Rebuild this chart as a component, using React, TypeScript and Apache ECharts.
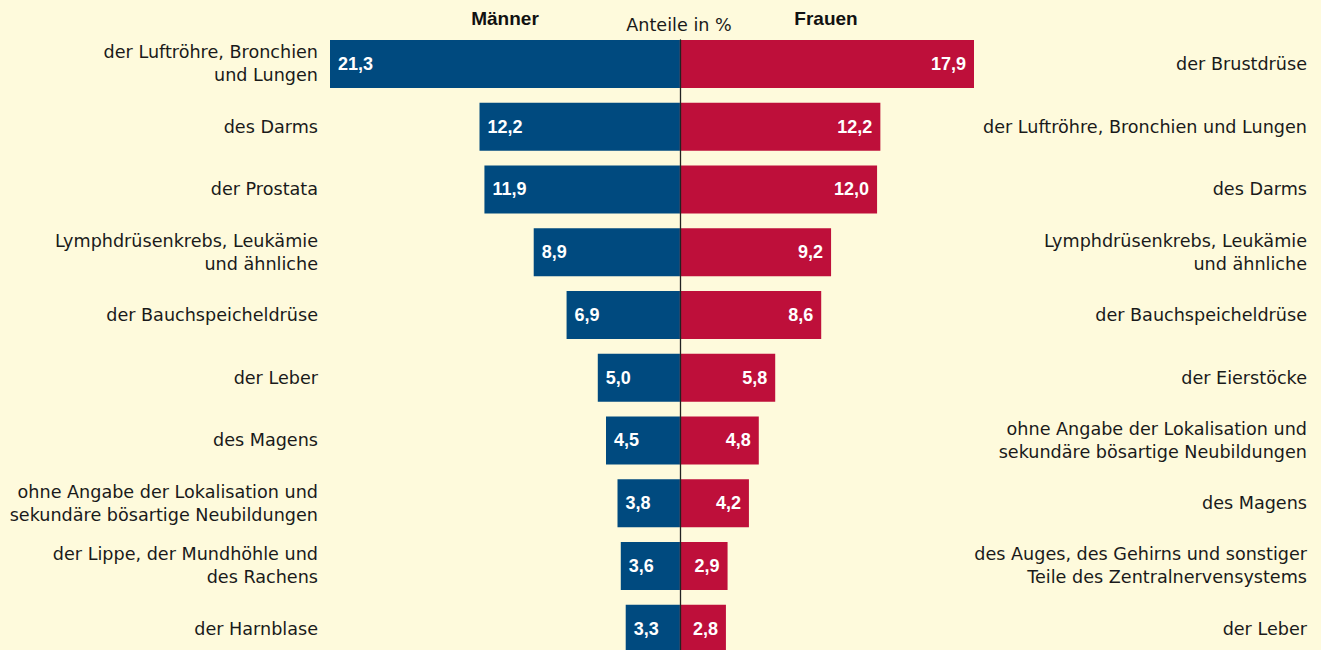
import React, { useEffect, useRef } from "react";
import * as echarts from "echarts";

const menLabels = [
  "der Luftröhre, Bronchien\nund Lungen",
  "des Darms",
  "der Prostata",
  "Lymphdrüsenkrebs, Leukämie\nund ähnliche",
  "der Bauchspeicheldrüse",
  "der Leber",
  "des Magens",
  "ohne Angabe der Lokalisation und\nsekundäre bösartige Neubildungen",
  "der Lippe, der Mundhöhle und\ndes Rachens",
  "der Harnblase",
];
const menValues = [21.3, 12.2, 11.9, 8.9, 6.9, 5.0, 4.5, 3.8, 3.6, 3.3];

const womenLabels = [
  "der Brustdrüse",
  "der Luftröhre, Bronchien und Lungen",
  "des Darms",
  "Lymphdrüsenkrebs, Leukämie\nund ähnliche",
  "der Bauchspeicheldrüse",
  "der Eierstöcke",
  "ohne Angabe der Lokalisation und\nsekundäre bösartige Neubildungen",
  "des Magens",
  "des Auges, des Gehirns und sonstiger\nTeile des Zentralnervensystems",
  "der Leber",
];
const womenValues = [17.9, 12.2, 12.0, 9.2, 8.6, 5.8, 4.8, 4.2, 2.9, 2.8];

const headMen = "Männer";
const headWomen = "Frauen";
const headUnit = "Anteile in %";

const FONT = "'Liberation Sans', Arial, sans-serif";
const LFONT = "'DejaVu Sans', 'Liberation Sans', sans-serif";
const BG = "#FEFADC";
const BLUE = "#004A7F";
const RED = "#BE0F3A";
const TEXT = "#1a1a1a";

const fmt = (v: number) => Math.abs(v).toFixed(1).replace(".", ",");

export default function App() {
  const ref = useRef<HTMLDivElement>(null);
  useEffect(() => {
    document.body.style.margin = "0";
    document.body.style.overflow = "hidden";
    const chart = echarts.init(ref.current!, null, { renderer: "svg" });
    const xMin = -Math.max(...menValues);
    const xMax = Math.max(...womenValues);
    const gridLeft = 330;
    const gridRight = 347;
    chart.setOption({
      animation: false,
      backgroundColor: BG,
      textStyle: { fontFamily: FONT },
      grid: [
        { left: gridLeft, right: gridRight, top: 32.6, height: 627.5 },
        { left: gridLeft, right: gridRight, top: 40, height: 620 },
      ],
      xAxis: [
        {
          type: "value",
          gridIndex: 0,
          min: xMin,
          max: xMax,
          show: false,
        },
        {
          type: "value",
          gridIndex: 1,
          min: xMin,
          max: xMax,
          axisLine: { show: false },
          axisTick: { show: false },
          axisLabel: { show: false },
          splitLine: { show: false },
        },
      ],
      yAxis: [
        {
          type: "category",
          gridIndex: 0,
          position: "left",
          inverse: true,
          data: menLabels,
          axisLine: { show: false },
          axisTick: { show: false },
          axisLabel: {
            margin: 12,
            align: "right",
            color: TEXT,
            fontSize: 17.6,
            lineHeight: 23,
            fontFamily: LFONT,
          },
        },
        {
          type: "category",
          gridIndex: 0,
          position: "right",
          inverse: true,
          data: womenLabels,
          axisLine: { show: false },
          axisTick: { show: false },
          axisLabel: {
            margin: 1307 - (1321 - gridRight),
            align: "right",
            color: TEXT,
            fontSize: 17.6,
            lineHeight: 23,
            fontFamily: LFONT,
          },
        },
        {
          type: "value",
          gridIndex: 1,
          min: 0,
          max: 1,
          z: 10,
          axisLine: { show: true, onZero: true, lineStyle: { color: "#222", width: 1.3 } },
          axisTick: { show: false },
          axisLabel: { show: false },
          splitLine: { show: false },
        },
      ],
      graphic: [
        {
          type: "text",
          x: 505,
          y: 18,
          style: {
            text: headMen,
            fontSize: 19,
            fontWeight: "bold",
            fontFamily: FONT,
            fill: "#111",
            textAlign: "center",
            textVerticalAlign: "middle",
          },
        },
        {
          type: "text",
          x: 826,
          y: 18,
          style: {
            text: headWomen,
            fontSize: 19,
            fontWeight: "bold",
            fontFamily: FONT,
            fill: "#111",
            textAlign: "center",
            textVerticalAlign: "middle",
          },
        },
        {
          type: "text",
          x: 679,
          y: 25,
          style: {
            text: headUnit,
            fontSize: 17.6,
            fontFamily: LFONT,
            fill: TEXT,
            textAlign: "center",
            textVerticalAlign: "middle",
          },
        },
      ],
      series: [
        {
          type: "bar",
          name: headMen,
          xAxisIndex: 0,
          yAxisIndex: 0,
          barWidth: 48,
          data: menValues.map((v) => -v),
          itemStyle: { color: BLUE },
          label: {
            show: true,
            position: "insideLeft",
            distance: 8,
            color: "#fff",
            fontWeight: "bold",
            fontSize: 18,
            fontFamily: FONT,
            formatter: (p: any) => fmt(p.value),
          },
        },
        {
          type: "bar",
          name: headWomen,
          xAxisIndex: 0,
          yAxisIndex: 1,
          barWidth: 48,
          data: womenValues,
          itemStyle: { color: RED },
          label: {
            show: true,
            position: "insideRight",
            distance: 8,
            color: "#fff",
            fontWeight: "bold",
            fontSize: 18,
            fontFamily: FONT,
            formatter: (p: any) => fmt(p.value),
          },
        },
      ],
    });
    return () => chart.dispose();
  }, []);
  return (
    <div style={{ width: 1321, height: 650, overflow: "hidden" }}>
      <div ref={ref} style={{ width: 1321, height: 670 }} />
    </div>
  );
}
